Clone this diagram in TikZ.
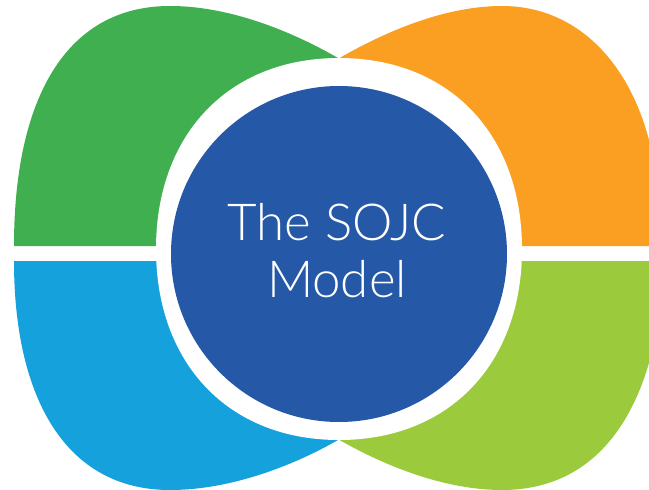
\documentclass[tikz,border=0pt]{standalone}
\usepackage{fontspec}
\setmainfont{Lato Light}
\definecolor{cg}{HTML}{40AF4F}
\definecolor{co}{HTML}{FA9F21}
\definecolor{cb}{HTML}{14A1DC}
\definecolor{cl}{HTML}{9BCB3C}
\definecolor{cc}{HTML}{2559A8}
\begin{document}
\begin{tikzpicture}[x=1pt,y=-1pt]
\useasboundingbox (0,0) rectangle (649,490);
\fill[white] (0,0) rectangle (649,490);
% green
\fill[cg] (338,58) .. controls (300,36) and (235,6) .. (170,6)
 .. controls (65,6) and (14,100) .. (14,246) -- (338,246) -- cycle;
% orange
\fill[co] (339.5,58) .. controls (378,36) and (440,6) .. (502,6)
 .. controls (575,6) and (628,60) .. (649,140) -- (649,246) -- (339.5,246) -- cycle;
% blue
\fill[cb] (338,440) .. controls (300,462) and (235,490) .. (170,490)
 .. controls (65,490) and (14,397) .. (14,261) -- (338,261) -- cycle;
% lime
\fill[cl] (339.5,440) .. controls (378,462) and (440,490) .. (502,490)
 .. controls (575,490) and (625,445) .. (649,363) -- (649,261) -- (339.5,261) -- cycle;
% white ring
\fill[white] (339,58) .. controls (449,58) and (522,134) .. (522,249)
 .. controls (522,364) and (449,440) .. (339,440)
 .. controls (229,440) and (156,364) .. (156,249)
 .. controls (156,134) and (229,58) .. (339,58) -- cycle;
\node[circle,fill=cc,minimum size=336pt,inner sep=0pt] (hub) at (339,254) {};
\node[text=white,font=\fontsize{51}{57}\selectfont,align=center] (t) at (337,251) {The SOJC\\Model};
\end{tikzpicture}
\end{document}
